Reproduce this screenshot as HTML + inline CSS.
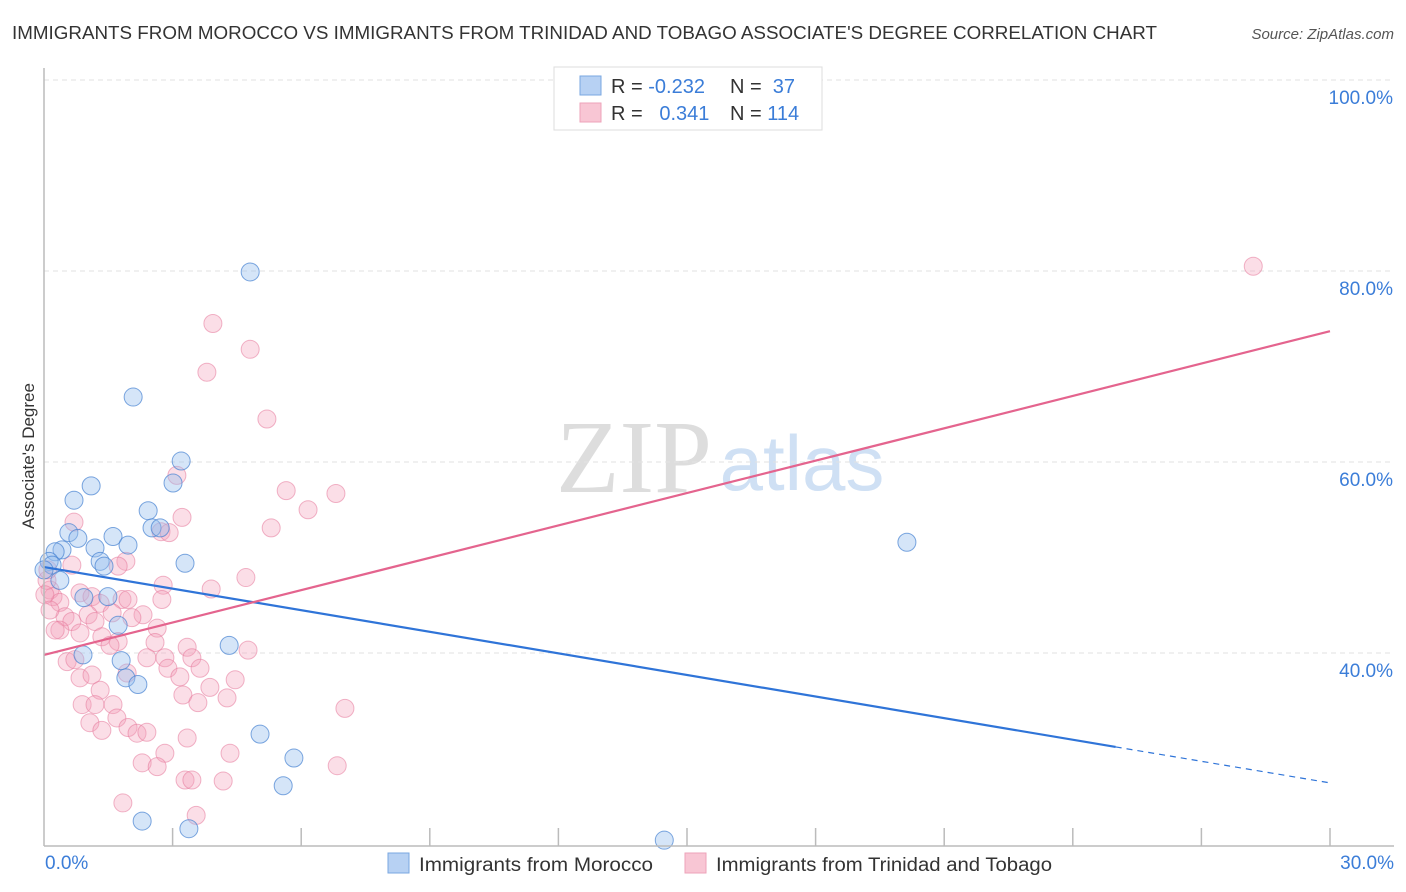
<!DOCTYPE html>
<html><head><meta charset="utf-8">
<style>
body{margin:0;background:#fff;font-family:"Liberation Sans",sans-serif;}
#wrap{position:relative;width:1406px;height:892px;overflow:hidden;}
</style></head>
<body>
<div id="wrap">
<svg id="svg" width="1406" height="892" xmlns="http://www.w3.org/2000/svg">
<text x="12" y="39" font-size="18" fill="#333" textLength="1145" lengthAdjust="spacingAndGlyphs">IMMIGRANTS FROM MOROCCO VS IMMIGRANTS FROM TRINIDAD AND TOBAGO ASSOCIATE'S DEGREE CORRELATION CHART</text>
<text x="1394" y="39" font-size="15" fill="#555" font-style="italic" text-anchor="end">Source: ZipAtlas.com</text>
<text x="34" y="456" font-size="17" fill="#333" text-anchor="middle" transform="rotate(-90 34 456)">Associate's Degree</text>
<text x="634" y="492" font-size="104" fill="#ddd" font-family="Liberation Serif,serif" text-anchor="middle">ZIP</text>
<text x="802" y="490" font-size="78" fill="#cfe0f4" text-anchor="middle">atlas</text>
<g id="grid"></g><g id="pts"></g><g id="lines"></g>
<line x1="44" y1="68" x2="44" y2="846" stroke="#bbb" stroke-width="1.5"/>
<line x1="44" y1="846" x2="1394" y2="846" stroke="#bbb" stroke-width="1.5"/>
<text x="45" y="869" font-size="19" fill="#3b7dd8">0.0%</text>
<text x="1394" y="869" font-size="19" fill="#3b7dd8" text-anchor="end">30.0%</text>
<g>
<rect x="554" y="67" width="268" height="63" fill="#fff" stroke="#ddd"/>
<rect x="580" y="76" width="21" height="19" fill="#b7d1f3" stroke="#7aa7e0"/>
<rect x="580" y="103" width="21" height="19" fill="#f8c6d4" stroke="#eea3ba"/>
<text x="611" y="93" font-size="20" fill="#333">R = <tspan fill="#3b7dd8">-0.232</tspan></text>
<text x="730" y="93" font-size="20" fill="#333">N = <tspan fill="#3b7dd8">&#160;37</tspan></text>
<text x="611" y="120" font-size="20" fill="#333">R = <tspan fill="#3b7dd8">&#160; 0.341</tspan></text>
<text x="730" y="120" font-size="20" fill="#333">N = <tspan fill="#3b7dd8">114</tspan></text>
</g>
<g>
<rect x="388" y="853" width="21" height="20" fill="#b7d1f3" stroke="#7aa7e0"/>
<text x="419" y="871" font-size="19" fill="#333" textLength="234" lengthAdjust="spacingAndGlyphs">Immigrants from Morocco</text>
<rect x="685" y="853" width="21" height="20" fill="#f8c6d4" stroke="#eea3ba"/>
<text x="716" y="871" font-size="19" fill="#333" textLength="336" lengthAdjust="spacingAndGlyphs">Immigrants from Trinidad and Tobago</text>
</g>
</svg>
</div>
<script>
const yTicks=[100,80,60,40];
const yTickLabels=["100.0%","80.0%","60.0%","40.0%"];
const xTicks=[3,6,9,12,15,18,21,24,27,30];
const moroccoX=[4.81,2.08,3.20,3.01,1.10,0.70,2.43,2.52,2.71,0.58,0.79,1.61,1.96,0.42,0.26,1.19,0.12,0.19,1.31,1.40,3.29,20.13,0.0,0.37,0.93,1.49,1.73,4.32,0.91,1.80,1.91,2.19,5.04,5.83,5.58,2.29,3.38,14.47];
const moroccoY=[79.9,66.8,60.1,57.8,57.5,56.0,54.9,53.1,53.1,52.6,52.0,52.2,51.3,50.8,50.6,51.0,49.6,49.2,49.6,49.1,49.4,51.6,48.7,47.6,45.8,45.9,42.9,40.8,39.8,39.2,37.4,36.7,31.5,29.0,26.1,22.4,21.6,20.4];
const trinidadX=[3.10,5.65,6.81,6.16,3.22,0.70,5.30,2.73,2.92,1.91,1.73,0.65,4.71,3.90,2.78,2.75,0.14,0.21,0.37,0.84,1.12,1.31,1.82,1.96,2.31,1.59,1.03,0.49,0.65,1.19,2.05,0.37,0.84,2.64,2.59,1.35,1.73,1.54,4.76,3.34,2.40,2.82,3.45,0.54,0.72,3.64,2.89,0.84,1.12,1.94,4.46,3.17,3.87,1.31,3.24,0.89,1.19,1.61,3.59,4.27,7.02,1.70,1.07,1.35,1.96,2.17,2.40,3.34,2.82,4.34,2.29,2.64,6.84,3.29,3.45,4.18,1.84,3.55,28.21,3.94,4.81,3.80,5.20,0.07,0.02,0.14,0.26,0.09];
const trinidadY=[58.6,57.0,56.7,55.0,54.2,53.7,53.1,52.7,52.6,49.6,49.1,49.2,47.9,46.7,47.1,45.6,46.6,45.9,45.3,46.3,45.9,45.2,45.6,45.6,44.0,44.2,44.0,43.8,43.3,43.3,43.7,42.4,42.1,42.6,41.1,41.7,41.2,40.8,40.3,40.6,39.5,39.5,39.5,39.1,39.3,38.4,38.4,37.4,37.7,37.9,37.2,37.5,36.4,36.1,35.6,34.6,34.6,34.6,34.8,35.3,34.2,33.2,32.7,31.9,32.2,31.6,31.7,31.1,29.5,29.5,28.5,28.1,28.2,26.7,26.7,26.6,24.3,23.0,80.5,74.5,71.8,69.4,64.5,47.6,46.1,44.5,42.4,48.7];
const moroccoTrend=[49.0,26.4];
const trinidadTrend=[39.8,73.7];
const NS="http://www.w3.org/2000/svg";
const sx=v=>44+v*(1286/30);
const sy=v=>80+(100-v)*9.55;
function mk(t,a,p){const e=document.createElementNS(NS,t);for(const k in a)e.setAttribute(k,a[k]);p.appendChild(e);return e;}
const grid=document.getElementById('grid'),pts=document.getElementById('pts'),lines=document.getElementById('lines'),svg=document.getElementById('svg');
yTicks.forEach((t,i)=>{
 const l=mk('line',{x1:44,x2:1394,y1:sy(t),y2:sy(t),stroke:'#e2e2e2','stroke-dasharray':'5,4'},grid);
 
 
 const tx=mk('text',{x:1393,y:sy(t)+24,'font-size':19,fill:'#3b7dd8','text-anchor':'end'},svg);
 tx.textContent=yTickLabels[i];
 
 
});
xTicks.forEach(t=>{
 const l=mk('line',{x1:sx(t),x2:sx(t),y1:828,y2:846,stroke:'#bbb','stroke-width':1.5},svg);
 
 
});
trinidadX.forEach((x,i)=>{
 const c=mk('circle',{cx:sx(x),cy:sy(trinidadY[i]),r:9,fill:'rgba(244,160,186,0.35)',stroke:'rgba(230,120,155,0.55)','stroke-width':1},pts);
 
 
});
moroccoX.forEach((x,i)=>{
 const c=mk('circle',{cx:sx(x),cy:sy(moroccoY[i]),r:9,fill:'rgba(150,190,238,0.4)',stroke:'rgba(70,130,210,0.7)','stroke-width':1},pts);
 
 
});
const bAt=x=>moroccoTrend[0]+(moroccoTrend[1]-moroccoTrend[0])*x/30;
const pAt=x=>trinidadTrend[0]+(trinidadTrend[1]-trinidadTrend[0])*x/30;
const bl=mk('line',{x1:sx(0),y1:sy(bAt(0)),x2:sx(25),y2:sy(bAt(25)),stroke:'#2f74d8','stroke-width':2.2},lines);


const bd=mk('line',{x1:sx(25),y1:sy(bAt(25)),x2:sx(30),y2:sy(bAt(30)),stroke:'#2f74d8','stroke-width':1.2,'stroke-dasharray':'6,5'},lines);


const pl=mk('line',{x1:sx(0),y1:sy(pAt(0)),x2:sx(30),y2:sy(pAt(30)),stroke:'#e4648e','stroke-width':2.2},lines);


</script>
</body></html>
